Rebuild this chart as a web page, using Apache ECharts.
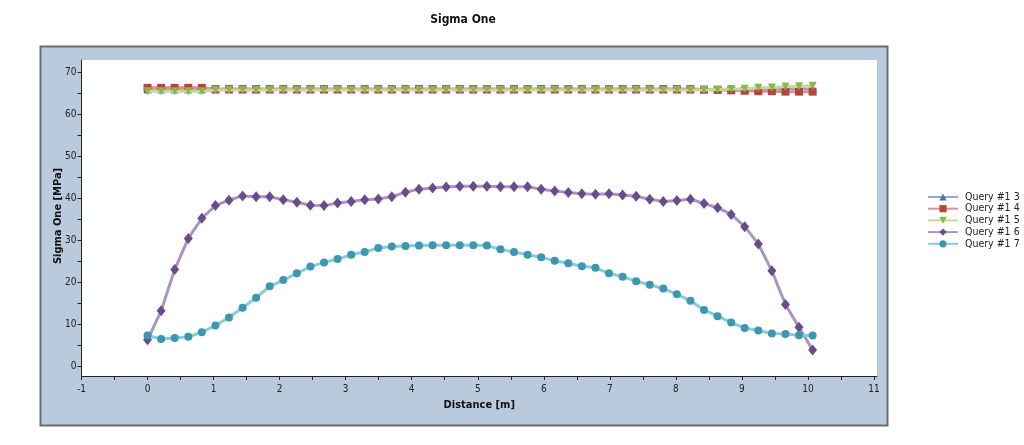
<!DOCTYPE html>
<html>
<head>
<meta charset="utf-8">
<script src="https://cdn.jsdelivr.net/npm/echarts@6/dist/echarts.min.js"></script>
<style>
html,body{margin:0;padding:0;background:#ffffff;}
#chart{width:1024px;height:445px;}
</style>
</head>
<body>
<div id="chart"></div>
<script>
// ---- data ----
const distance = [0.000,0.206,0.411,0.617,0.822,1.028,1.233,1.439,1.644,1.850,
  2.055,2.261,2.466,2.672,2.877,3.083,3.288,3.494,3.699,3.905,
  4.110,4.316,4.521,4.727,4.932,5.138,5.343,5.549,5.754,5.960,
  6.165,6.371,6.576,6.782,6.987,7.193,7.398,7.604,7.809,8.015,
  8.220,8.426,8.631,8.837,9.042,9.248,9.453,9.659,9.864,10.070];

const seriesNames = ["Query #1 3","Query #1 4","Query #1 5","Query #1 6","Query #1 7"];

const query13 = [65.9,65.9,65.9,65.9,65.9,65.9,65.9,65.9,65.9,65.9,
  65.9,65.9,65.9,65.9,65.9,65.9,65.9,65.9,65.9,65.9,
  65.9,65.9,65.9,65.9,65.9,65.9,65.9,65.9,65.9,65.9,
  65.9,65.9,65.9,65.9,65.9,65.9,65.9,65.9,65.9,65.9,
  65.9,65.9,65.9,65.9,65.9,65.9,66.0,66.0,66.0,66.0];

const query14 = [66.3,66.3,66.3,66.3,66.3,66.0,66.0,66.0,66.0,66.0,
  66.0,66.0,66.0,66.0,66.0,66.0,66.0,66.0,66.0,66.0,
  66.0,66.0,66.0,66.0,66.0,66.0,66.0,66.0,66.0,66.0,
  66.0,66.0,66.0,66.0,66.0,66.0,66.0,66.0,66.0,66.0,
  66.0,65.9,65.8,65.7,65.6,65.5,65.5,65.4,65.4,65.4];

const query15 = [65.5,65.5,65.5,65.5,65.5,65.8,65.8,65.8,65.8,65.8,
  65.8,65.8,65.8,65.8,65.8,65.8,65.8,65.8,65.8,65.8,
  65.8,65.8,65.8,65.8,65.8,65.8,65.8,65.8,65.8,65.8,
  65.8,65.8,65.8,65.8,65.8,65.8,65.8,65.8,65.8,65.8,
  65.8,65.8,65.9,66.0,66.1,66.3,66.4,66.6,66.7,66.8];

const query16 = [6.4,13.3,23.1,30.5,35.3,38.3,39.6,40.6,40.4,40.4,
  39.7,39.1,38.4,38.3,38.9,39.3,39.7,39.9,40.4,41.5,
  42.2,42.5,42.7,42.9,42.9,42.9,42.8,42.8,42.8,42.2,
  41.8,41.4,41.1,41.0,41.1,40.8,40.5,39.8,39.3,39.5,
  39.8,38.8,37.8,36.2,33.3,29.2,22.8,14.8,9.4,4.0];

const query17 = [7.4,6.6,6.8,7.1,8.2,9.8,11.7,14.0,16.4,19.1,
  20.6,22.2,23.8,24.8,25.6,26.6,27.3,28.2,28.6,28.7,
  28.8,28.9,28.9,28.9,28.9,28.8,27.9,27.3,26.6,26.0,
  25.2,24.6,23.9,23.5,22.2,21.4,20.3,19.5,18.6,17.2,
  15.7,13.5,12.0,10.5,9.2,8.6,7.9,7.8,7.5,7.4];

const xLabelValues = [-1,0,1,2,3,4,5,6,7,8,9,10,11];
const xTickValues = [-1,-0.5,0,0.5,1,1.5,2,2.5,3,3.5,4,4.5,5,5.5,6,6.5,7,7.5,8,8.5,9,9.5,10,10.5,11];
const yLabelValues = [0,10,20,30,40,50,60,70];
const yTickValues = [0,5,10,15,20,25,30,35,40,45,50,55,60,65,70];

const titleText = "Sigma One";
const xName = "Distance [m]";
const yName = "Sigma One [MPa]";

// ---- styles ----
const FONT = "'DejaVu Sans Condensed', 'Liberation Sans', sans-serif";
const styles = [
  {marker:'#4a74aa', line:'#8fa9cf', symbol:'triangle', size:8},
  {marker:'#b5453f', line:'#d99390', symbol:'rect', size:8},
  {marker:'#8cb84a', line:'#c5d8a0', symbol:'path://M0,0 L10,0 L5,10 Z', size:8},
  {marker:'#6a4c8c', line:'#a796c0', symbol:'diamond', size:[9,11]},
  {marker:'#3b98b0', line:'#8ccad8', symbol:'circle', size:8}
];
const dataSets = [query13, query14, query15, query16, query17];

const series = dataSets.map((vals, k) => ({
  name: seriesNames[k],
  type: 'line',
  data: distance.map((d, i) => [d, vals[i]]),
  symbol: styles[k].symbol,
  symbolSize: styles[k].size,
  showAllSymbol: true,
  lineStyle: {color: styles[k].line, width: 3},
  itemStyle: {color: styles[k].marker},
  emphasis: {disabled: true},
  animation: false,
  z: 3 + k
}));

const chart = echarts.init(document.getElementById('chart'), null, {renderer: 'canvas'});
chart.setOption({
  animation: false,
  backgroundColor: '#ffffff',
  graphic: [
    {type: 'rect', z: -10, shape: {x: 40.5, y: 46.5, width: 847, height: 379},
     style: {fill: '#b9cadd', stroke: '#666d75', lineWidth: 2}},
    {type: 'text', z: 10, x: 463, y: 20,
     style: {text: titleText, font: "bold 12px " + FONT, fill: '#111', textAlign: 'center', textVerticalAlign: 'middle'}},
    {type: 'text', z: 10, x: 58, y: 216, rotation: Math.PI / 2,
     style: {text: yName, font: "bold 11px " + FONT, fill: '#111', textAlign: 'center', textVerticalAlign: 'middle'}}
  ],
  legend: {
    orient: 'vertical',
    left: 927, top: 191.5, padding: 0,
    itemWidth: 30, itemHeight: 9, itemGap: 0.7,
    data: seriesNames,
    textStyle: {fontFamily: FONT, fontSize: 10.5, color: '#222', lineHeight: 9, padding: [0,0,0,2]},
    selectedMode: false
  },
  grid: {left: 81.5, top: 60, width: 795.5, height: 316, show: true, backgroundColor: '#ffffff', borderWidth: 0, containLabel: false},
  xAxis: {
    type: 'value', min: -1, max: 11.045,
    name: xName, nameLocation: 'middle', nameGap: 24,
    nameTextStyle: {fontFamily: FONT, fontWeight: 'bold', fontSize: 11, color: '#111'},
    axisLine: {onZero: false, lineStyle: {color: '#222', width: 1}},
    axisTick: {show: true, length: 4, customValues: xTickValues, lineStyle: {color: '#222'}},
    axisLabel: {customValues: xLabelValues, fontFamily: FONT, fontSize: 10, color: '#222', margin: 8},
    splitLine: {show: false}
  },
  yAxis: {
    type: 'value', min: -2.21, max: 72.92,
    axisLine: {show: true, onZero: false, lineStyle: {color: '#222', width: 1}},
    axisTick: {show: true, length: 4, customValues: yTickValues, lineStyle: {color: '#222'}},
    axisLabel: {customValues: yLabelValues, fontFamily: FONT, fontSize: 10, color: '#222', margin: 5},
    splitLine: {show: false}
  },
  series: series
});
</script>
</body>
</html>
